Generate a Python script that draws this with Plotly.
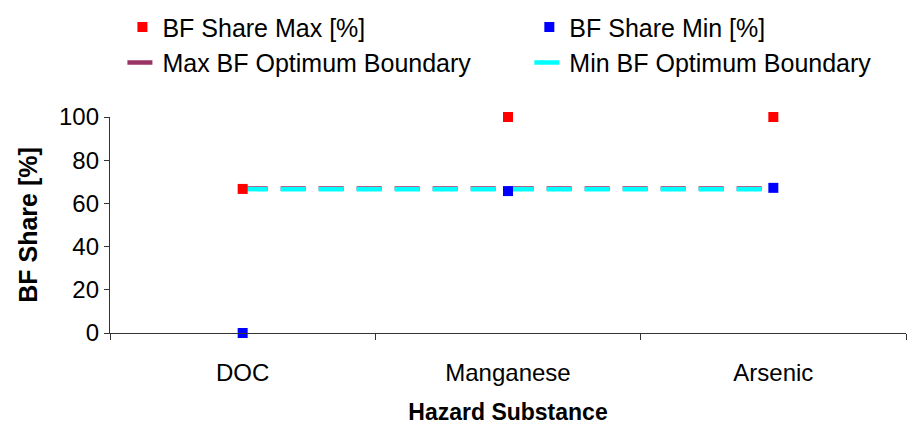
import plotly.graph_objects as go

# Hazard substances on the category axis
substances = ["DOC", "Manganese", "Arsenic"]

# Bank filtrate share range per substance [%]
bf_share_max = [66.7, 100, 100]
bf_share_min = [0, 65.7, 67.2]

# Optimum boundaries of the bank filtrate share [%]
max_bf_boundary = [66.9, 66.9, 66.9]
min_bf_boundary = [66.6, 66.6, 66.6]

y_ticks = [0, 20, 40, 60, 80, 100]

FONT = "Liberation Sans, Arial, sans-serif"
DASH = "25px,13px"

fig = go.Figure()

# Boundary lines go first so the markers sit on top of them
fig.add_trace(go.Scatter(
    x=substances, y=max_bf_boundary, mode="lines", name="Max BF Optimum Boundary",
    line=dict(color="#993366", width=4.5, dash=DASH),
    legend="legend", legendrank=2,
))
fig.add_trace(go.Scatter(
    x=substances, y=min_bf_boundary, mode="lines", name="Min BF Optimum Boundary",
    line=dict(color="#00FFFF", width=4.5, dash=DASH),
    legend="legend2", legendrank=2,
))
fig.add_trace(go.Scatter(
    x=substances, y=bf_share_max, mode="markers", name="BF Share Max [%]",
    marker=dict(symbol="square", size=10, color="#FF0000"), cliponaxis=False,
    legend="legend", legendrank=1,
))
fig.add_trace(go.Scatter(
    x=substances, y=bf_share_min, mode="markers", name="BF Share Min [%]",
    marker=dict(symbol="square", size=10, color="#0000FF"), cliponaxis=False,
    legend="legend2", legendrank=1,
))

# Two stacked legend columns above the plot area (paper coordinates)
legend_common = dict(
    orientation="v", traceorder="normal",
    y=1.522, xanchor="left", yanchor="top",
    font=dict(family=FONT, size=25, color="black"),
    bgcolor="rgba(0,0,0,0)",
)

fig.update_layout(
    width=907, height=428,
    margin=dict(l=110, r=1, t=117, b=95, autoexpand=False),
    paper_bgcolor="white", plot_bgcolor="white",
    font=dict(family=FONT, size=24, color="black"),
    showlegend=True,
    legend=dict(x=0.0156, **legend_common),
    legend2=dict(x=0.5268, **legend_common),
)

fig.update_xaxes(
    type="category", range=[-0.5, 2.5],
    showline=True, linecolor="#333333", linewidth=1.3,
    ticks="outside", tickson="boundaries", ticklen=6, tickcolor="#333333",
    showgrid=False, zeroline=False,
    tickfont=dict(family=FONT, size=24, color="black"),
    ticklabelstandoff=18,
    title=dict(text="<b>Hazard Substance</b>", font=dict(family=FONT, size=23, color="black"), standoff=18),
    automargin=False,
)
fig.update_yaxes(
    range=[0, 100], tickvals=y_ticks,
    showline=True, linecolor="#333333", linewidth=1.3,
    ticks="outside", ticklen=5, tickcolor="#333333",
    showgrid=False, zeroline=False,
    tickfont=dict(family=FONT, size=24, color="black"),
    ticksuffix="\u00a0\u00a0",
    title=dict(text="<b>BF Share [%]</b>", font=dict(family=FONT, size=25, color="black"), standoff=14),
    automargin=False,
)

fig.write_html("out.html")
